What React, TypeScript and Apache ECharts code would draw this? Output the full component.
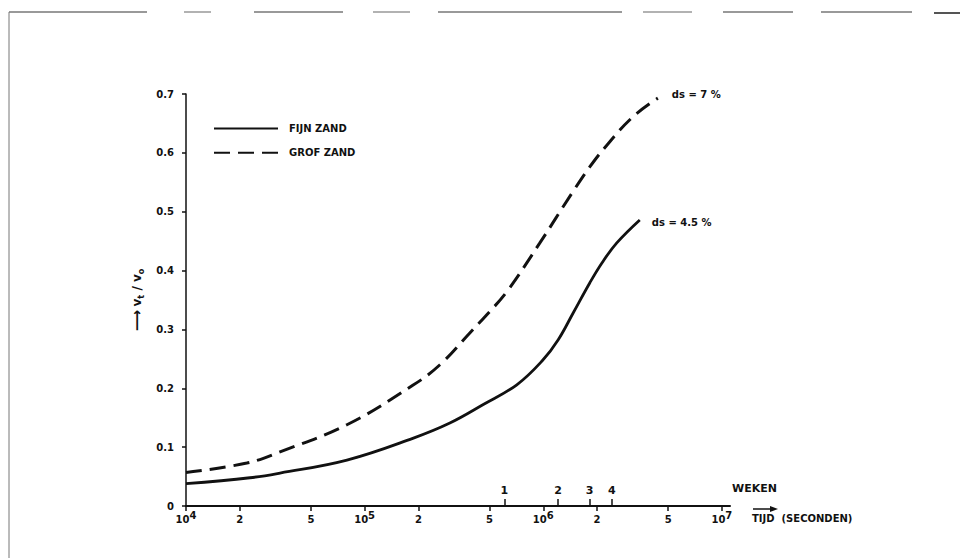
import React, { useEffect, useRef } from "react";
import * as echarts from "echarts";

// Time (seconds) and v_t / v_0 values
const FIJN_X = [1.0e4, 2.28e4, 3.36e4, 7.96e4, 1.86e5, 3.0e5, 4.59e5, 7.11e5, 9.95e5, 1.21e6, 1.47e6, 1.82e6, 2.13e6, 2.58e6, 3.47e6];
const FIJN_Y = [0.038, 0.048, 0.056, 0.078, 0.115, 0.141, 0.172, 0.206, 0.248, 0.282, 0.328, 0.379, 0.413, 0.447, 0.486];

const GROF_X = [1.0e4, 2.19e4, 3.36e4, 7.96e4, 1.86e5, 2.64e5, 3.88e5, 4.83e5, 6.25e5, 9.57e5, 1.45e6, 1.82e6, 2.27e6, 3.17e6, 4.38e6];
const GROF_Y = [0.057, 0.073, 0.092, 0.138, 0.205, 0.24, 0.294, 0.325, 0.364, 0.447, 0.532, 0.576, 0.613, 0.661, 0.693];

const SERIES_NAMES = ["FIJN ZAND", "GROF ZAND"];
const END_LABELS = ["ds = 4.5 %", "ds = 7 %"];

const X_TICKS = [1e4, 2e4, 5e4, 1e5, 2e5, 5e5, 1e6, 2e6, 5e6, 1e7];
const X_TICK_LABELS = ["10|4", "2", "5", "10|5", "2", "5", "10|6", "2", "5", "10|7"];

const WEEKS = [1, 2, 3, 4];
const SECONDS_PER_WEEK = 604800;

const Y_TICKS_MAX = 0.7;

const FONT = "DejaVu Sans";
const INK = "#111";

export default function App() {
  const ref = useRef<HTMLDivElement>(null);

  useEffect(() => {
    if (!ref.current) return;
    const chart = echarts.init(ref.current, undefined, { renderer: "svg" });

    const weekTicks = WEEKS.map((w) => w * SECONDS_PER_WEEK);

    const xLabel = (v: number) => {
      let idx = -1;
      X_TICKS.forEach((t, i) => {
        if (Math.abs(Math.log10(t) - Math.log10(v)) < 1e-6) idx = i;
      });
      if (idx < 0) return "";
      const s = X_TICK_LABELS[idx];
      if (s.includes("|")) {
        const [b, e] = s.split("|");
        return `{b|${b}}{s|${e}}`;
      }
      return `{b|${s}}`;
    };

    const weekLabel = (v: number) => String(Math.round(v / SECONDS_PER_WEEK));

    const textStyleBase = { fontFamily: FONT, color: INK, fontSize: 11, fontWeight: "bold" as const };

    const option: any = {
      animation: false,
      backgroundColor: "#fff",
      grid: { left: 186, right: 230, top: 94, bottom: 52 },
      legend: {
        data: SERIES_NAMES,
        orient: "vertical",
        left: 208,
        top: 118,
        itemWidth: 64,
        itemHeight: 14,
        itemGap: 13,
        itemStyle: { opacity: 0 },
        textStyle: { ...textStyleBase, fontSize: 10, padding: [0, 0, 0, 6] },
      },
      xAxis: [
        {
          type: "log",
          min: 1e4,
          max: 1.11e7,
          position: "bottom",
          splitLine: { show: false },
          minorTick: { show: false },
          axisLine: { show: true, lineStyle: { color: INK, width: 2 } },
          axisTick: { show: true, length: 5, customValues: X_TICKS, lineStyle: { color: INK, width: 1.5 } },
          axisLabel: {
            show: true,
            customValues: X_TICKS,
            margin: 6,
            formatter: xLabel,
            rich: {
              b: { fontFamily: FONT, fontSize: 10, fontWeight: "bold", color: INK, lineHeight: 14 },
              s: { fontFamily: FONT, fontSize: 10, fontWeight: "bold", color: INK, lineHeight: 14, padding: [0, 0, 7, 0] },
            },
          },
        },
        {
          type: "log",
          min: 1e4,
          max: 1.11e7,
          position: "bottom",
          splitLine: { show: false },
          minorTick: { show: false },
          axisLine: { show: false },
          axisTick: { show: true, inside: true, length: 7, customValues: weekTicks, lineStyle: { color: INK, width: 1.5 } },
          axisLabel: {
            show: true,
            inside: true,
            customValues: weekTicks,
            margin: 10,
            formatter: weekLabel,
            ...textStyleBase,
            fontSize: 11,
          },
        },
      ],
      yAxis: {
        type: "value",
        min: 0,
        max: Y_TICKS_MAX,
        interval: 0.1,
        splitLine: { show: false },
        axisLine: { show: true, lineStyle: { color: INK, width: 1.5 } },
        axisTick: { show: true, length: 4, lineStyle: { color: INK, width: 1.5 } },
        axisLabel: {
          margin: 12,
          ...textStyleBase,
          fontSize: 10,
          formatter: (v: number) => (v === 0 ? "0" : v.toFixed(1)),
        },
        name: "{a|⟶} {v|v}{sub|t}{v| / v}{sub|o}",
        nameLocation: "middle",
        nameRotate: 90,
        nameGap: 36,
        nameTextStyle: {
          rich: {
            a: { fontFamily: FONT, fontSize: 15, color: INK, fontWeight: "bold", lineHeight: 16 },
            v: { fontFamily: FONT, fontSize: 12, color: INK, fontWeight: "bold", lineHeight: 16 },
            sub: { fontFamily: FONT, fontSize: 8, color: INK, fontWeight: "bold", lineHeight: 16, verticalAlign: "bottom", padding: [5, 0, 0, 0] },
          },
        },
      },
      series: [
        {
          name: SERIES_NAMES[0],
          type: "line",
          xAxisIndex: 0,
          data: FIJN_X.map((x, i) => [x, FIJN_Y[i]]),
          smooth: 0.4,
          showSymbol: false,
          symbol: "none",
          lineStyle: { color: INK, width: 2.8, type: "solid" },
          itemStyle: { color: INK },
          endLabel: {
            show: true,
            formatter: END_LABELS[0],
            distance: 12,
            offset: [0, 3],
            ...textStyleBase,
            fontSize: 10,
          },
        },
        {
          name: SERIES_NAMES[1],
          type: "line",
          xAxisIndex: 0,
          data: GROF_X.map((x, i) => [x, GROF_Y[i]]),
          smooth: 0.4,
          showSymbol: false,
          symbol: "none",
          lineStyle: { color: INK, width: 3, type: [16, 8] },
          itemStyle: { color: INK },
          endLabel: {
            show: true,
            formatter: END_LABELS[1],
            distance: 14,
            offset: [0, -4],
            ...textStyleBase,
            fontSize: 10,
          },
        },
      ],
      graphic: [
        { type: "text", left: 732, top: 483, style: { text: "WEKEN", font: `bold 11px "${FONT}"`, fill: INK } },
        { type: "text", left: 752, top: 513, style: { text: "TIJD  (SECONDEN)", font: `bold 10px "${FONT}"`, fill: INK } },
        { type: "line", shape: { x1: 753, y1: 509, x2: 772, y2: 509 }, style: { stroke: INK, lineWidth: 1.5 } },
        { type: "polygon", shape: { points: [[778, 509], [770, 506], [770, 512]] }, style: { fill: INK } },
        // scanned page frame
        { type: "line", shape: { x1: 9, y1: 12, x2: 9, y2: 558 }, style: { stroke: "#777", lineWidth: 1 } },
        { type: "line", shape: { x1: 9, y1: 12, x2: 147, y2: 12 }, style: { stroke: "#777", lineWidth: 1.5 } },
        { type: "line", shape: { x1: 184, y1: 12, x2: 211, y2: 12 }, style: { stroke: "#999", lineWidth: 1.5 } },
        { type: "line", shape: { x1: 254, y1: 12, x2: 343, y2: 12 }, style: { stroke: "#777", lineWidth: 1.5 } },
        { type: "line", shape: { x1: 373, y1: 12, x2: 410, y2: 12 }, style: { stroke: "#999", lineWidth: 1.5 } },
        { type: "line", shape: { x1: 438, y1: 12, x2: 622, y2: 12 }, style: { stroke: "#777", lineWidth: 1.5 } },
        { type: "line", shape: { x1: 643, y1: 12, x2: 692, y2: 12 }, style: { stroke: "#999", lineWidth: 1.5 } },
        { type: "line", shape: { x1: 723, y1: 12, x2: 793, y2: 12 }, style: { stroke: "#777", lineWidth: 1.5 } },
        { type: "line", shape: { x1: 821, y1: 12, x2: 912, y2: 12 }, style: { stroke: "#777", lineWidth: 1.5 } },
        { type: "line", shape: { x1: 934, y1: 13, x2: 960, y2: 13 }, style: { stroke: "#555", lineWidth: 2 } },
      ],
    };

    chart.setOption(option);
    return () => chart.dispose();
  }, []);

  return (
    <div
      ref={ref}
      style={{ position: "fixed", left: 0, top: 0, width: 960, height: 558, background: "#fff" }}
    />
  );
}
